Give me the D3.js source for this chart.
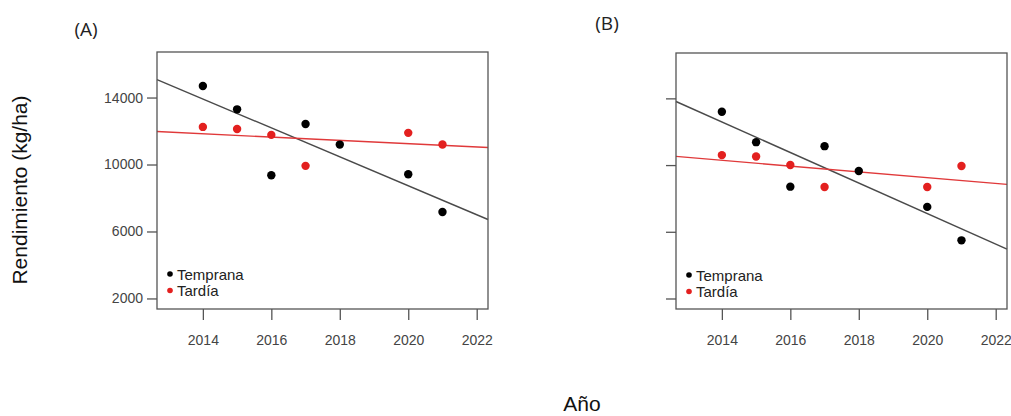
<!DOCTYPE html>
<html><head><meta charset="utf-8">
<script src="https://cdn.jsdelivr.net/npm/d3@7"></script>
<style>body{margin:0;background:#fff;} svg{display:block;font-family:"Liberation Sans",Arial,sans-serif;}</style>
</head><body>
<svg id="c" width="1011" height="416"></svg>
<script>
const xTicks = [2014, 2016, 2018, 2020, 2022];
const yTicks = [2000, 6000, 10000, 14000];
const seriesNames = ["Temprana", "Tardía"];
const seriesColors = ["#000000", "#e3201f"];
const lineColors = ["#4a4a4a", "#e0393a"];
// Panel A
const yearsTempA = [2014, 2015, 2016, 2017, 2018, 2020, 2021];
const valsTempA  = [14690, 13295, 9360, 12420, 11190, 9420, 7160];
const yearsTardA = [2014, 2015, 2016, 2017, 2020, 2021];
const valsTardA  = [12245, 12125, 11770, 9920, 11890, 11195];
// Panel B
const yearsTempB = [2014, 2015, 2016, 2017, 2018, 2020, 2021];
const valsTempB  = [13194, 11373, 8705, 11134, 9642, 7493, 5487];
const yearsTardB = [2014, 2015, 2016, 2017, 2020, 2021];
const valsTardB  = [10597, 10513, 10000, 8687, 8687, 9940];

const svg = d3.select("#c");

function fit(xs, ys){
  const mx = d3.mean(xs), my = d3.mean(ys);
  let sxy = 0, sxx = 0;
  xs.forEach((x,i)=>{ sxy += (x-mx)*(ys[i]-my); sxx += (x-mx)*(x-mx); });
  const b = sxy/sxx; return x => my + b*(x-mx);
}

function panel(opt){
  const {left, top, right, bottom, label, lx, ly, showYLabels, series} = opt;
  const x = d3.scaleLinear().domain([2012.66, 2022.33]).range([left, right]);
  const y = d3.scaleLinear().domain([1370, 16720]).range([bottom, top]);
  const g = svg.append("g");
  series.forEach((s,i)=>{
    const f = fit(s.xs, s.ys);
    const d0 = x.domain();
    g.append("line").attr("x1", x(d0[0])).attr("y1", y(f(d0[0])))
      .attr("x2", x(d0[1])).attr("y2", y(f(d0[1])))
      .attr("stroke", lineColors[i]).attr("stroke-width", 1.4);
  });
  series.forEach((s,i)=>{
    g.selectAll(null).data(s.xs.map((v,j)=>[v, s.ys[j]])).enter().append("circle")
      .attr("cx", d=>x(d[0])).attr("cy", d=>y(d[1])).attr("r", 4.2)
      .attr("fill", seriesColors[i]);
  });
  g.append("rect").attr("x", left).attr("y", top).attr("width", right-left).attr("height", bottom-top)
    .attr("fill", "none").attr("stroke", "#555").attr("stroke-width", 1.3);
  const xa = g.append("g").attr("transform", `translate(0,${bottom})`)
    .call(d3.axisBottom(x).tickValues(xTicks).tickFormat(d3.format("d")).tickSize(11).tickPadding(15));
  const ya = g.append("g").attr("transform", `translate(${left},0)`)
    .call(d3.axisLeft(y).tickValues(yTicks).tickFormat(showYLabels ? d3.format("d") : "").tickSize(10).tickPadding(4));
  [xa, ya].forEach(a=>{
    a.select(".domain").remove();
    a.selectAll("line").attr("stroke", "#555").attr("stroke-width", 1.3);
    a.selectAll("text").attr("fill", "#444").style("font-size", "14px").style("font-family", '"Liberation Sans",Arial,sans-serif');
  });
  seriesNames.forEach((n,i)=>{
    const yy = top + 222 + i*16.5;
    g.append("circle").attr("cx", left + 13).attr("cy", yy).attr("r", 2.8).attr("fill", seriesColors[i]);
    g.append("text").attr("x", left + 20).attr("y", yy + 5.5).text(n)
      .attr("fill", "#222").style("font-size", "15px");
  });
  svg.append("text").attr("x", lx).attr("y", ly).attr("text-anchor", "middle").text(label)
    .attr("fill", "#222").style("font-size", "19px").style("font-family", '"Open Sans",sans-serif');
}

panel({left:157, top:52, right:488, bottom:309, label:"(A)", lx:86, ly:36, showYLabels:true,
  series:[{xs:yearsTempA, ys:valsTempA}, {xs:yearsTardA, ys:valsTardA}]});
panel({left:676, top:53, right:1007, bottom:309, label:"(B)", lx:607, ly:30, showYLabels:false,
  series:[{xs:yearsTempB, ys:valsTempB}, {xs:yearsTardB, ys:valsTardB}]});

svg.append("text").attr("transform", "translate(27,190) rotate(-90)").attr("text-anchor", "middle")
  .text("Rendimiento  (kg/ha)").attr("fill", "#111").style("font-size", "21px");
svg.append("text").attr("x", 582).attr("y", 411).attr("text-anchor", "middle")
  .text("Año").attr("fill", "#111").style("font-size", "21px");
</script>
</body></html>
